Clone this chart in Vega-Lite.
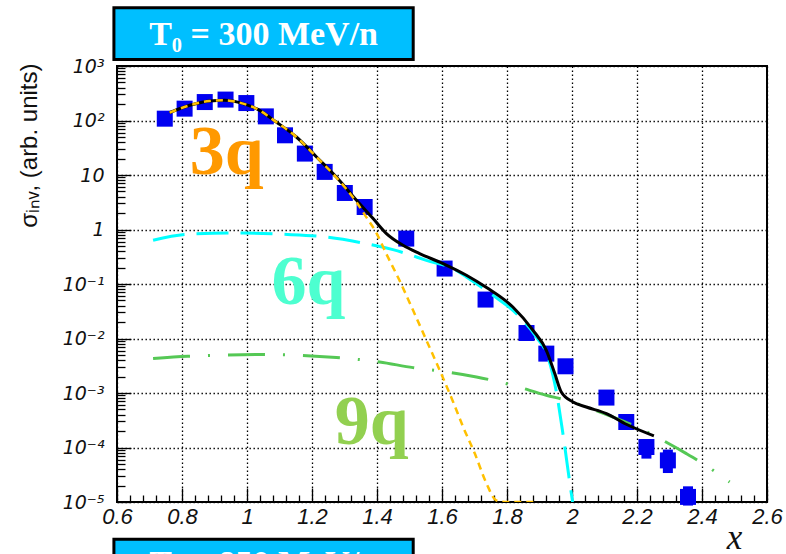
{
  "$schema": "https://vega.github.io/schema/vega-lite/v6.json",
  "width": 650,
  "height": 436,
  "autosize": {"type": "none"},
  "padding": {"left": 117, "top": 66, "right": 19, "bottom": 52},
  "background": "white",
  "config": {"view": {"stroke": "black", "strokeWidth": 2}, "font": "Liberation Sans"},
  "datasets": {
    "boxes": [
      {"x": 0.5905, "x2": 1.5114, "y": 11695, "y2": 1316},
      {"x": 0.5905, "x2": 1.5114, "y": 0.00000208, "y2": 0.0000001}
    ],
    "boxtext": [
      {"x": 1.051, "y": 2399, "label": "T₀ = 300 MeV/n"},
      {"x": 1.051, "y": 0.000000471, "label": "T₀ = 850 MeV/n"}
    ],
    "points": [
      {"x": 0.747, "y": 108}, {"x": 0.808, "y": 165}, {"x": 0.870, "y": 218}, {"x": 0.934, "y": 242},
      {"x": 0.998, "y": 209}, {"x": 1.058, "y": 119}, {"x": 1.117, "y": 53.5}, {"x": 1.178, "y": 24.7},
      {"x": 1.239, "y": 11.4}, {"x": 1.301, "y": 4.68}, {"x": 1.362, "y": 2.59}, {"x": 1.490, "y": 0.681},
      {"x": 1.608, "y": 0.192}, {"x": 1.734, "y": 0.0518}, {"x": 1.860, "y": 0.0126}, {"x": 1.921, "y": 0.00528},
      {"x": 1.980, "y": 0.00309}, {"x": 2.106, "y": 0.000824}, {"x": 2.167, "y": 0.000294}, {"x": 2.229, "y": 0.000102},
      {"x": 2.295, "y": 0.000058}, {"x": 2.357, "y": 0.0000124}
    ],
    "errors": [
      {"x": 2.229, "y": 0.000140, "y2": 0.0000625},
      {"x": 2.295, "y": 0.0000916, "y2": 0.0000340},
      {"x": 2.357, "y": 0.0000194, "y2": 0.0000086}
    ],
    "curves": [
      {"s": "total", "x": 0.762, "y": 139.6}, {"s": "total", "x": 0.824, "y": 190.1}, {"s": "total", "x": 0.885, "y": 228},
      {"s": "total", "x": 0.931, "y": 235}, {"s": "total", "x": 0.988, "y": 204}, {"s": "total", "x": 1.029, "y": 165},
      {"s": "total", "x": 1.090, "y": 93.8}, {"s": "total", "x": 1.152, "y": 49.8}, {"s": "total", "x": 1.214, "y": 21.4},
      {"s": "total", "x": 1.275, "y": 9.18}, {"s": "total", "x": 1.337, "y": 3.44}, {"s": "total", "x": 1.388, "y": 1.585},
      {"s": "total", "x": 1.429, "y": 0.841}, {"s": "total", "x": 1.480, "y": 0.513}, {"s": "total", "x": 1.531, "y": 0.361},
      {"s": "total", "x": 1.603, "y": 0.237}, {"s": "total", "x": 1.675, "y": 0.1445}, {"s": "total", "x": 1.737, "y": 0.0859},
      {"s": "total", "x": 1.818, "y": 0.0378}, {"s": "total", "x": 1.880, "y": 0.01413}, {"s": "total", "x": 1.921, "y": 0.00607},
      {"s": "total", "x": 1.947, "y": 0.00227}, {"s": "total", "x": 1.967, "y": 0.001042}, {"s": "total", "x": 2.003, "y": 0.000684},
      {"s": "total", "x": 2.044, "y": 0.000553}, {"s": "total", "x": 2.106, "y": 0.000419}, {"s": "total", "x": 2.167, "y": 0.000267},
      {"s": "total", "x": 2.252, "y": 0.0001637},

      {"s": "3q", "x": 0.762, "y": 139.6}, {"s": "3q", "x": 0.824, "y": 190}, {"s": "3q", "x": 0.885, "y": 228},
      {"s": "3q", "x": 0.931, "y": 235}, {"s": "3q", "x": 0.988, "y": 204}, {"s": "3q", "x": 1.029, "y": 165},
      {"s": "3q", "x": 1.090, "y": 93.8}, {"s": "3q", "x": 1.152, "y": 49.8}, {"s": "3q", "x": 1.214, "y": 21.4},
      {"s": "3q", "x": 1.275, "y": 9.0}, {"s": "3q", "x": 1.337, "y": 3.16}, {"s": "3q", "x": 1.367, "y": 1.69},
      {"s": "3q", "x": 1.398, "y": 0.87}, {"s": "3q", "x": 1.429, "y": 0.355}, {"s": "3q", "x": 1.469, "y": 0.117},
      {"s": "3q", "x": 1.511, "y": 0.0329}, {"s": "3q", "x": 1.552, "y": 0.00927}, {"s": "3q", "x": 1.593, "y": 0.00261},
      {"s": "3q", "x": 1.634, "y": 0.000692}, {"s": "3q", "x": 1.665, "y": 0.000238}, {"s": "3q", "x": 1.701, "y": 0.0000773},
      {"s": "3q", "x": 1.737, "y": 0.0000218}, {"s": "3q", "x": 1.767, "y": 0.0000107}, {"s": "3q", "x": 1.800, "y": 0.00001},
      {"s": "3q", "x": 1.885, "y": 0.00001},

      {"s": "6q", "x": 0.711, "y": 0.634}, {"s": "6q", "x": 0.814, "y": 0.817}, {"s": "6q", "x": 0.988, "y": 0.863},
      {"s": "6q", "x": 1.111, "y": 0.817}, {"s": "6q", "x": 1.244, "y": 0.728}, {"s": "6q", "x": 1.357, "y": 0.565},
      {"s": "6q", "x": 1.449, "y": 0.428}, {"s": "6q", "x": 1.552, "y": 0.272}, {"s": "6q", "x": 1.644, "y": 0.178},
      {"s": "6q", "x": 1.675, "y": 0.135}, {"s": "6q", "x": 1.757, "y": 0.0621}, {"s": "6q", "x": 1.829, "y": 0.0286},
      {"s": "6q", "x": 1.890, "y": 0.01067}, {"s": "6q", "x": 1.926, "y": 0.00458}, {"s": "6q", "x": 1.952, "y": 0.001042},
      {"s": "6q", "x": 1.972, "y": 0.000180}, {"s": "6q", "x": 1.998, "y": 0.0000143}, {"s": "6q", "x": 2.002, "y": 0.00001},

      {"s": "9q", "x": 0.711, "y": 0.00428}, {"s": "9q", "x": 0.818, "y": 0.00471}, {"s": "9q", "x": 1.049, "y": 0.00507},
      {"s": "9q", "x": 1.275, "y": 0.00447}, {"s": "9q", "x": 1.408, "y": 0.00371}, {"s": "9q", "x": 1.511, "y": 0.00292},
      {"s": "9q", "x": 1.593, "y": 0.00254}, {"s": "9q", "x": 1.706, "y": 0.00197}, {"s": "9q", "x": 1.818, "y": 0.00138},
      {"s": "9q", "x": 1.921, "y": 0.000908}, {"s": "9q", "x": 1.983, "y": 0.000735}, {"s": "9q", "x": 2.044, "y": 0.000553},
      {"s": "9q", "x": 2.126, "y": 0.000363}, {"s": "9q", "x": 2.188, "y": 0.000255}, {"s": "9q", "x": 2.260, "y": 0.000156},
      {"s": "9q", "x": 2.352, "y": 0.0000773}, {"s": "9q", "x": 2.403, "y": 0.0000507}, {"s": "9q", "x": 2.485, "y": 0.0000233}
    ],
    "labels": [
      {"x": 0.8237, "y": 10.6, "label": "3q"},
      {"x": 1.075, "y": 0.0437, "label": "6q"},
      {"x": 1.270, "y": 0.0001178, "label": "9q"}
    ]
  },
  "encoding": {
    "x": {
      "field": "x", "type": "quantitative",
      "scale": {"domain": [0.6, 2.6], "nice": false, "zero": false},
      "axis": {
        "values": [0.6, 0.64, 0.68, 0.72, 0.76, 0.8, 0.84, 0.88, 0.92, 0.96, 1.0, 1.04, 1.08, 1.12, 1.16, 1.2, 1.24, 1.28, 1.32, 1.36, 1.4, 1.44, 1.48, 1.52, 1.56, 1.6, 1.64, 1.68, 1.72, 1.76, 1.8, 1.84, 1.88, 1.92, 1.96, 2.0, 2.04, 2.08, 2.12, 2.16, 2.2, 2.24, 2.28, 2.32, 2.36, 2.4, 2.44, 2.48, 2.52, 2.56, 2.6],
        "labelExpr": "abs(datum.value*5-round(datum.value*5))<0.001 ? format(datum.value,'.1~f') : ''",
        "tickSize": {"condition": {"test": "abs(datum.value*5-round(datum.value*5))<0.001", "value": -14}, "value": -7},
        "grid": true,
        "gridOpacity": {"condition": {"test": "abs(datum.value*5-round(datum.value*5))<0.001", "value": 1}, "value": 0},
        "gridColor": "#000", "gridDash": [1.4, 2.6], "gridWidth": 1.3,
        "tickColor": "#000", "tickWidth": 1.3,
        "domain": false,
        "labelFont": "Liberation Sans", "labelFontStyle": "italic", "labelFontSize": 22, "labelColor": "#111",
        "labelPadding": 18, "labelFlush": false, "labelOverlap": false, "labelBound": false,
        "title": "x", "titleFont": "Liberation Serif", "titleFontStyle": "italic", "titleFontWeight": "normal",
        "titleFontSize": 35, "titleColor": "#111", "titleX": 617, "titleY": 46, "titleBaseline": "alphabetic", "titleAlign": "center", "titleAnchor": null
      }
    },
    "y": {
      "field": "y", "type": "quantitative",
      "scale": {"type": "log", "domain": [0.00001, 1000], "nice": false},
      "axis": {
        "values": [0.00001, 0.00002, 0.00003, 0.00004, 0.00005, 0.00006, 0.00007, 0.00008, 0.00009,
                   0.0001, 0.0002, 0.0003, 0.0004, 0.0005, 0.0006, 0.0007, 0.0008, 0.0009,
                   0.001, 0.002, 0.003, 0.004, 0.005, 0.006, 0.007, 0.008, 0.009,
                   0.01, 0.02, 0.03, 0.04, 0.05, 0.06, 0.07, 0.08, 0.09,
                   0.1, 0.2, 0.3, 0.4, 0.5, 0.6, 0.7, 0.8, 0.9,
                   1, 2, 3, 4, 5, 6, 7, 8, 9,
                   10, 20, 30, 40, 50, 60, 70, 80, 90,
                   100, 200, 300, 400, 500, 600, 700, 800, 900, 1000],
        "labelExpr": "abs(log(datum.value)/LN10-round(log(datum.value)/LN10))<0.001 ? ['10⁻⁵','10⁻⁴','10⁻³','10⁻²','10⁻¹','1','10','10²','10³'][round(log(datum.value)/LN10)+5] : ''",
        "tickSize": {"condition": {"test": "abs(log(datum.value)/LN10-round(log(datum.value)/LN10))<0.001", "value": -14}, "value": -8},
        "grid": true,
        "gridOpacity": {"condition": {"test": "abs(log(datum.value)/LN10-round(log(datum.value)/LN10))<0.001", "value": 1}, "value": 0},
        "gridColor": "#000", "gridDash": [1.4, 2.6], "gridWidth": 1.3,
        "tickColor": "#000", "tickWidth": 1.3,
        "domain": false,
        "labelFont": "DejaVu Sans", "labelFontStyle": "italic", "labelFontSize": 19, "labelColor": "#111",
        "labelPadding": 27, "labelFlush": false, "labelOverlap": false, "labelBound": false,
        "title": "σᵢₙᵥ, (arb. units)", "titleFont": "Liberation Sans", "titleFontWeight": "normal", "titleFontSize": 24,
        "titleColor": "#111", "titleAngle": -90, "titleX": -81, "titleY": -3, "titleAlign": "right", "titleBaseline": "alphabetic", "titleAnchor": null
      }
    }
  },
  "layer": [
    {
      "data": {"name": "boxes"},
      "mark": {"type": "rect", "fill": "#00BFFF", "stroke": "#000", "strokeWidth": 3, "clip": false},
      "encoding": {"x2": {"field": "x2"}, "y2": {"field": "y2"}}
    },
    {
      "data": {"name": "boxtext"},
      "mark": {"type": "text", "font": "Liberation Serif", "fontWeight": "bold", "fontSize": 34, "color": "white", "align": "center", "baseline": "alphabetic", "clip": false},
      "encoding": {"text": {"field": "label"}}
    },
    {
      "data": {"name": "errors"},
      "mark": {"type": "rule", "color": "#0000F0", "strokeWidth": 10, "strokeCap": "butt"},
      "encoding": {"y2": {"field": "y2"}}
    },
    {
      "data": {"name": "points"},
      "mark": {"type": "point", "shape": "square", "filled": true, "size": 256, "color": "#0000F0", "opacity": 1},
      "encoding": {}
    },
    {
      "data": {"name": "curves"},
      "transform": [{"filter": "datum.s === '9q'"}],
      "mark": {"type": "line", "color": "#55C855", "strokeWidth": 3, "strokeDash": [37, 18, 2, 18], "clip": true, "interpolate": "monotone"},
      "encoding": {}
    },
    {
      "data": {"name": "curves"},
      "transform": [{"filter": "datum.s === '6q'"}],
      "mark": {"type": "line", "color": "#00FFFF", "strokeWidth": 3, "strokeDash": [32, 12], "clip": true, "interpolate": "monotone"},
      "encoding": {}
    },
    {
      "data": {"name": "curves"},
      "transform": [{"filter": "datum.s === 'total'"}],
      "mark": {"type": "line", "color": "#000", "strokeWidth": 3, "clip": true, "interpolate": "monotone"},
      "encoding": {}
    },
    {
      "data": {"name": "curves"},
      "transform": [{"filter": "datum.s === '3q'"}],
      "mark": {"type": "line", "color": "#FFC000", "strokeWidth": 2.5, "strokeDash": [7, 5], "clip": true, "interpolate": "monotone"},
      "encoding": {}
    },
    {
      "data": {"name": "labels"},
      "mark": {"type": "text", "font": "Liberation Serif", "fontWeight": "bold", "fontSize": 70, "align": "left", "baseline": "alphabetic"},
      "encoding": {
        "text": {"field": "label"},
        "color": {"field": "label", "type": "nominal", "scale": {"domain": ["3q", "6q", "9q"], "range": ["#FF9900", "#4DFFD0", "#92D050"]}, "legend": null}
      }
    }
  ]
}
